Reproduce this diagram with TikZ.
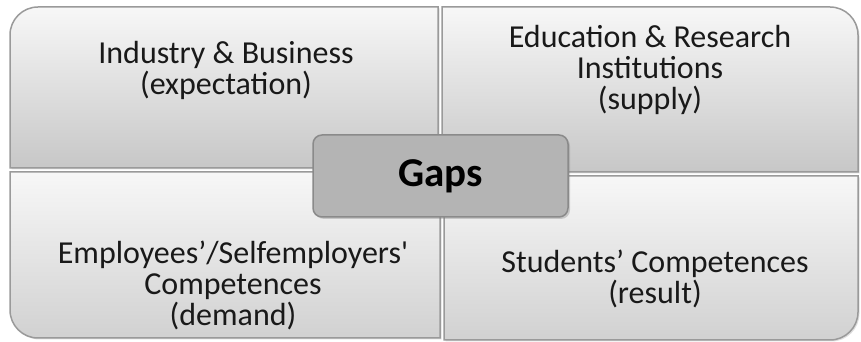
\documentclass[tikz,border=0pt]{standalone}
\usepackage{fontspec}
\setmainfont{Carlito}
\usetikzlibrary{shadows}
\definecolor{quadline}{HTML}{9A9A9A}
\definecolor{gapfill}{HTML}{B4B4B4}
\definecolor{gapline}{HTML}{8A8A8A}

\begin{document}
\begin{tikzpicture}[x=1pt,y=1pt,
    quad/.style={
% The border:
draw=quadline, line width=1.5pt,
% The fill:
top color=black!3, bottom color=black!22,
drop shadow={opacity=0.25, shadow xshift=1.5pt, shadow yshift=-1.5pt},
},
    lowquad/.style={
% The border:
draw=quadline, line width=1.5pt,
% The fill:
top color=black!3, bottom color=black!18,
drop shadow={opacity=0.25, shadow xshift=1.5pt, shadow yshift=-1.5pt},
},
    caption/.style={
% The text:
align=center, font=\fontsize{32}{31}\selectfont, text=black!90,
},
    gap/.style={
% The shape:
rectangle, rounded corners=9pt,
% The size:
minimum width=255pt, minimum height=82pt,
% The border:
draw=gapline, line width=1.5pt, fill=gapfill,
drop shadow={opacity=0.35, shadow xshift=2pt, shadow yshift=-2pt},
% The text:
font=\fontsize{41}{44}\selectfont\bfseries, text=black,
},
]
  \useasboundingbox (0,0) rectangle (861,342);
  % the four quarters, outer corner rounded
  \draw[quad]    (10,174) -- (10,307) arc[start angle=180,end angle=90,radius=28pt]
                 -- (438,335) -- (438,174) -- cycle;
  \draw[quad]    (442,170) -- (442,335) -- (830,335)
                 arc[start angle=90,end angle=0,radius=28pt] -- (858,170) -- cycle;
  \draw[lowquad] (10,170) -- (440,170) -- (440,4) -- (38,4)
                 arc[start angle=270,end angle=180,radius=28pt] -- cycle;
  \draw[lowquad] (444,166) -- (858,166) -- (858,30)
                 arc[start angle=0,end angle=-90,radius=28pt] -- (444,2) -- cycle;

  \node[caption] (industry)  at (226, 272) {Industry \& Business\\(expectation)};
  \node[caption] (education) at (650, 272) {Education \& Research\\Institutions\\(supply)};
  \node[caption] (employees) at (233, 57)
    {Employees’/Selfemployers\textquotesingle\\Competences\\(demand)};
  \node[caption] (students)  at (655, 63) {Students’ Competences\\(result)};

  \node[gap]     (gaps)      at (440.5, 166) {Gaps};
\end{tikzpicture}
\end{document}
